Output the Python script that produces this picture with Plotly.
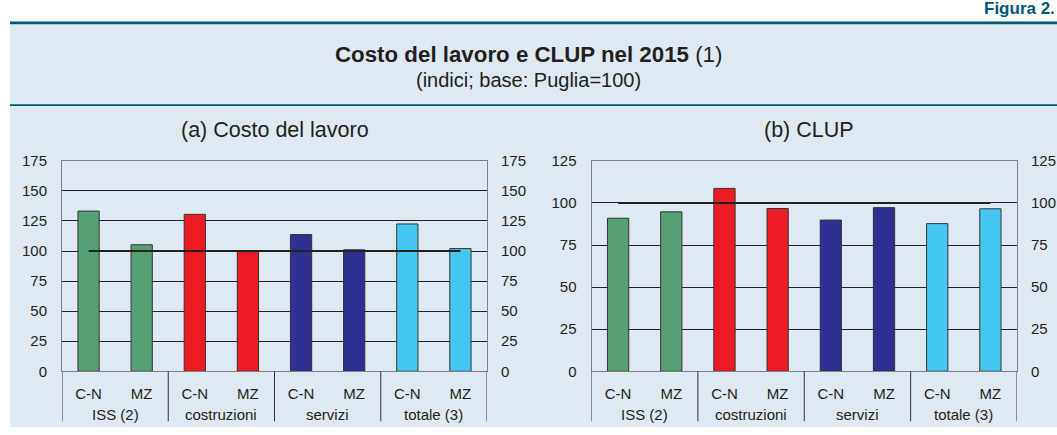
import plotly.graph_objects as go

# ---- data ----
groups = ["ISS (2)", "ISS (2)", "costruzioni", "costruzioni",
          "servizi", "servizi", "totale (3)", "totale (3)"]
areas = ["C-N", "MZ", "C-N", "MZ", "C-N", "MZ", "C-N", "MZ"]
costo_lavoro = [133.2, 105.2, 130.5, 99.4, 113.7, 101.0, 122.5, 102.0]
clup = [90.9, 94.7, 108.6, 96.7, 89.8, 97.2, 87.7, 96.5]
base_puglia = [100] * 8
bar_colors = ["#56A074", "#56A074", "#ED1C24", "#ED1C24",
              "#2E3192", "#2E3192", "#45C7F2", "#45C7F2"]

title_main = "<b>Costo del lavoro e CLUP nel 2015</b> (1)"
subtitle = "(indici; base: Puglia=100)"
panel_titles = ["(a) Costo del lavoro", "(b) CLUP"]
ranges = [[0, 175], [0, 125]]
figure_label = "<b>Figura 2.</b>"

W, H = 1057, 435
FONT = "Liberation Sans, Arial, sans-serif"
TEAL = "#00587A"
PANEL_BG = "#DEE9F3"
TXT = "#231F20"
TICK = 15

cats = [f"{g}|{a}" for g, a in zip(groups, areas)]
group_names = list(dict.fromkeys(groups))

fig = go.Figure()

for i, vals in enumerate([costo_lavoro, clup]):
    xa = "x" if i == 0 else "x2"
    ya = "y" if i == 0 else "y3"
    ya2 = "y2" if i == 0 else "y4"
    fig.add_trace(go.Bar(
        x=cats, y=vals, xaxis=xa, yaxis=ya, width=0.4,
        marker=dict(color=bar_colors, line=dict(color="#333333", width=1)),
        showlegend=False, hoverinfo="y"))
    fig.add_trace(go.Scatter(
        x=cats, y=base_puglia, xaxis=xa, yaxis=ya2, mode="lines",
        line=dict(color="#222222", width=2), showlegend=False, hoverinfo="skip"))

PLOT_TOP, PLOT_BOT = 158, 377
ydom = [(H - PLOT_BOT) / H, (H - PLOT_TOP) / H]
xdoms = [[62 / W, 487 / W], [591.5 / W, 1017 / W]]

def xaxis_cfg(dom, anchor):
    return dict(domain=dom, anchor=anchor, type="category", categoryorder="array",
                categoryarray=cats, range=[-0.5, len(cats) - 0.5],
                tickmode="array", tickvals=cats, ticktext=areas,
                showline=True, linecolor="#808080", linewidth=1, mirror=True,
                showgrid=False, ticks="", ticklabelstandoff=9, fixedrange=True,
                tickfont=dict(size=TICK, color=TXT, family=FONT))

def yaxis_cfg(rng, anchor, side="left", overlay=None, grid=True, standoff=11):
    d = dict(domain=ydom, range=rng, dtick=25, tick0=0, anchor=anchor, side=side,
             showgrid=grid, gridcolor="#222222", gridwidth=1, zeroline=False,
             showline=True, linecolor="#808080", linewidth=1,
             ticks="", ticklabelstandoff=standoff, fixedrange=True,
             tickfont=dict(size=TICK, color=TXT, family=FONT))
    if overlay:
        d["overlaying"] = overlay
    return d

fig.update_layout(
    width=W, height=H, margin=dict(l=0, r=0, t=0, b=0, pad=0),
    paper_bgcolor="white", plot_bgcolor="white",
    font=dict(family=FONT, color=TXT),
    xaxis=xaxis_cfg(xdoms[0], "y"),
    xaxis2=xaxis_cfg(xdoms[1], "y3"),
    yaxis=yaxis_cfg(ranges[0], "x", standoff=11),
    yaxis2=yaxis_cfg(ranges[0], "x", side="right", overlay="y", grid=False, standoff=10),
    yaxis3=yaxis_cfg(ranges[1], "x2", standoff=11),
    yaxis4=yaxis_cfg(ranges[1], "x2", side="right", overlay="y3", grid=False, standoff=10),
)

shapes = [
    dict(type="rect", xref="paper", yref="paper", x0=10 / W, x1=1, y0=0, y1=(H - 16) / H,
         fillcolor=PANEL_BG, line=dict(width=0), layer="below"),
    dict(type="rect", xref="paper", yref="paper", x0=10 / W, x1=1, y0=(H - 16) / H, y1=(H - 13) / H,
         fillcolor=TEAL, line=dict(width=0), layer="below"),
    dict(type="rect", xref="paper", yref="paper", x0=10 / W, x1=1, y0=(H - 101) / H, y1=(H - 99) / H,
         fillcolor=TEAL, line=dict(width=0), layer="below"),
]
n_per_group = len(cats) // len(group_names)
for xa in ["x", "x2"]:
    for k in range(len(group_names) + 1):
        xb = k * n_per_group - 0.5
        shapes.append(dict(type="line", xref=xa, yref="paper", x0=xb, x1=xb,
                           y0=(H - 429) / H, y1=(H - PLOT_BOT) / H,
                           line=dict(color="#333333", width=1)))
fig.update_layout(shapes=shapes)

ann = [
    dict(text=title_main, x=0.5, y=(H - 47) / H, xref="paper", yref="paper",
         xanchor="center", yanchor="middle",
         showarrow=False, font=dict(size=22.3, color=TXT, family=FONT)),
    dict(text=subtitle, x=0.5, y=(H - 74) / H, xref="paper", yref="paper",
         xanchor="center", yanchor="middle",
         showarrow=False, font=dict(size=20, color=TXT, family=FONT)),
    dict(text=figure_label, x=1, y=(H + 0.5) / H, xref="paper", yref="paper",
         xanchor="right", yanchor="middle", showarrow=False,
         font=dict(size=17, color=TEAL, family=FONT)),
]
title_x = [274.5 / W, 809 / W]
for i, t in enumerate(panel_titles):
    ann.append(dict(text=t, x=title_x[i], y=(H - 125.5) / H, xref="paper", yref="paper",
                    xanchor="center", yanchor="middle",
                    showarrow=False, font=dict(size=21.5, color=TXT, family=FONT)))
for xa in ["x", "x2"]:
    for k, g in enumerate(group_names):
        ann.append(dict(text=g, x=k * n_per_group + (n_per_group - 1) / 2, y=(H - 421.5) / H,
                        xref=xa, yref="paper", xanchor="center", yanchor="middle",
                        showarrow=False, font=dict(size=TICK, color=TXT, family=FONT)))
fig.update_layout(annotations=ann)

js = ("document.documentElement.style.cssText='margin:0;padding:0;overflow:hidden;';"
      "document.body.style.cssText='margin:0;padding:0;overflow:hidden;';")
fig.write_html("out.html", config={"displayModeBar": False, "staticPlot": True},
               post_script=js)
